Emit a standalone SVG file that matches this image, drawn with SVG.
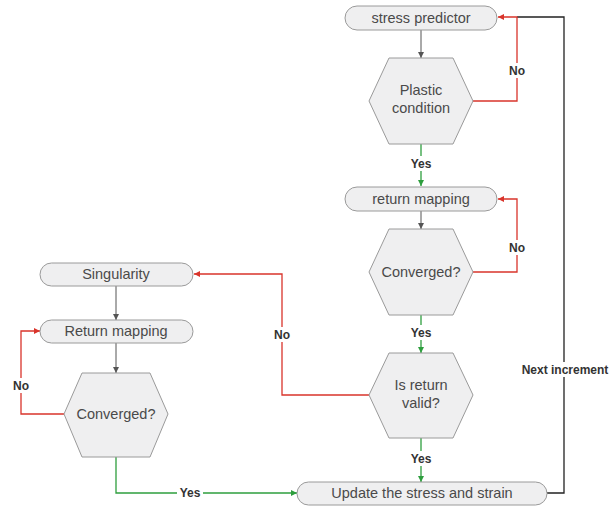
<svg xmlns="http://www.w3.org/2000/svg" width="612" height="510" viewBox="0 0 612 510">
<defs>
<marker id="ag" viewBox="0 0 10 10" refX="10" refY="5" markerWidth="6" markerHeight="6" orient="auto" markerUnits="userSpaceOnUse"><path d="M0,0 L10,5 L0,10 z" fill="#555"/></marker>
<marker id="ar" viewBox="0 0 10 10" refX="10" refY="5" markerWidth="6" markerHeight="6" orient="auto" markerUnits="userSpaceOnUse"><path d="M0,0 L10,5 L0,10 z" fill="#d9342b"/></marker>
<marker id="agr" viewBox="0 0 10 10" refX="10" refY="5" markerWidth="6" markerHeight="6" orient="auto" markerUnits="userSpaceOnUse"><path d="M0,0 L10,5 L0,10 z" fill="#2e9e3e"/></marker>
</defs>
<style>
.n{fill:#efeff0;stroke:#9a9a9a;stroke-width:1}
.t{font-family:"Liberation Sans",Arial,sans-serif;font-size:14.5px;fill:#4a4a4a;text-anchor:middle}
.l{font-family:"Liberation Sans",Arial,sans-serif;font-size:12px;font-weight:bold;fill:#333;text-anchor:middle}
.cg{fill:none;stroke:#555;stroke-width:1}
.cr{fill:none;stroke:#d9342b;stroke-width:1.3}
.cgr{fill:none;stroke:#2e9e3e;stroke-width:1.3}
.ck{fill:none;stroke:#222;stroke-width:1.3}
.bg{fill:#fff}
</style>
<rect width="612" height="510" fill="#fff"/>
<g id="connectors">
<path class="cg" d="M421,30 V58" marker-end="url(#ag)"/>
<path class="cg" d="M421,211 V229" marker-end="url(#ag)"/>
<path class="cg" d="M116,286 V320" marker-end="url(#ag)"/>
<path class="cg" d="M116,343 V373" marker-end="url(#ag)"/>
<path class="ck" d="M547,493 H564 V17 H517"/>
<path class="cr" d="M473,101 H517 V17 H498" marker-end="url(#ar)"/>
<path class="cr" d="M473,272 H517 V199 H498" marker-end="url(#ar)"/>
<path class="cr" d="M369,395 H282 V274 H194" marker-end="url(#ar)"/>
<path class="cr" d="M64,414 H21 V331 H40" marker-end="url(#ar)"/>
<path class="cgr" d="M421,144 V186" marker-end="url(#agr)"/>
<path class="cgr" d="M421,315 V353" marker-end="url(#agr)"/>
<path class="cgr" d="M421,438 V482" marker-end="url(#agr)"/>
<path class="cgr" d="M116,457 V493 H297" marker-end="url(#agr)"/>
<rect class="bg" x="507" y="63" width="21" height="15"/>
<text class="l" x="517" y="75">No</text>
<rect class="bg" x="507" y="240" width="21" height="15"/>
<text class="l" x="517" y="252">No</text>
<rect class="bg" x="271" y="327" width="22" height="15"/>
<text class="l" x="282" y="339">No</text>
<rect class="bg" x="10" y="378" width="22" height="15"/>
<text class="l" x="21" y="390">No</text>
<rect class="bg" x="408" y="156" width="26" height="15"/>
<text class="l" x="421" y="168">Yes</text>
<rect class="bg" x="408" y="325" width="26" height="15"/>
<text class="l" x="421" y="337">Yes</text>
<rect class="bg" x="408" y="451" width="26" height="15"/>
<text class="l" x="421" y="463">Yes</text>
<rect class="bg" x="177" y="486" width="26" height="15"/>
<text class="l" x="190" y="497">Yes</text>
<rect class="bg" x="518" y="362" width="94" height="15"/>
<text class="l" x="565" y="374">Next increment</text>
</g>
<g id="stress-predictor">
<rect class="n" x="345" y="6" width="152" height="24" rx="12"/>
<text class="t" x="421" y="23">stress predictor</text>
</g>
<g id="plastic-condition">
<polygon class="n" points="369,101 389,58 453,58 473,101 453,144 389,144"/>
<text class="t" x="421" y="95">Plastic</text>
<text class="t" x="421" y="113">condition</text>
</g>
<g id="return-mapping">
<rect class="n" x="345" y="187" width="152" height="24" rx="12"/>
<text class="t" x="421" y="204">return mapping</text>
</g>
<g id="converged-right">
<polygon class="n" points="369,272 389,229 453,229 473,272 453,315 389,315"/>
<text class="t" x="421" y="277">Converged?</text>
</g>
<g id="is-return-valid">
<polygon class="n" points="369,395 389,353 453,353 473,395 453,438 389,438"/>
<text class="t" x="421" y="390">Is return</text>
<text class="t" x="421" y="408">valid?</text>
</g>
<g id="update">
<rect class="n" x="297" y="482" width="250" height="23" rx="11.5"/>
<text class="t" x="422" y="498">Update the stress and strain</text>
</g>
<g id="singularity">
<rect class="n" x="40" y="263" width="153" height="23" rx="11.5"/>
<text class="t" x="116" y="279">Singularity</text>
</g>
<g id="return-mapping-left">
<rect class="n" x="40" y="320" width="153" height="23" rx="11.5"/>
<text class="t" x="116" y="336">Return mapping</text>
</g>
<g id="converged-left">
<polygon class="n" points="64,414 82,373 150,373 168,414 150,457 82,457"/>
<text class="t" x="116" y="419">Converged?</text>
</g>
</svg>
